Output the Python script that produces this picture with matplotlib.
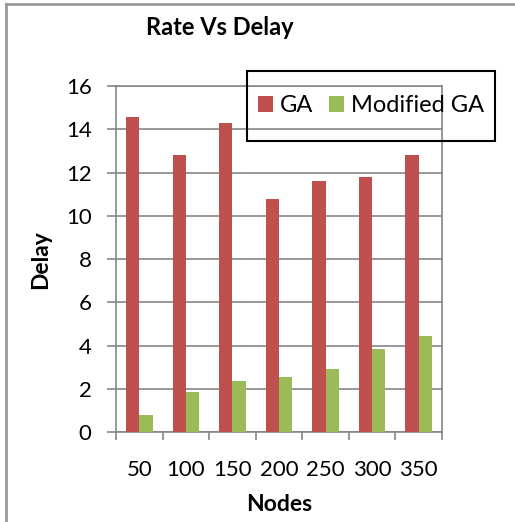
import matplotlib
matplotlib.use("Agg")
import matplotlib.pyplot as plt
from matplotlib.patches import Rectangle
from matplotlib.lines import Line2D
import numpy as np

nodes = ["50", "100", "150", "200", "250", "300", "350"]
ga = [14.55, 12.82, 14.29, 10.79, 11.59, 11.79, 12.82]
modified_ga = [0.78, 1.83, 2.34, 2.55, 2.92, 3.82, 4.43]
yticks = [0, 2, 4, 6, 8, 10, 12, 14, 16]

plt.rcParams["font.family"] = ["Lato", "DejaVu Sans"]

fig = plt.figure(figsize=(5.15, 5.22), dpi=100)
ax = fig.add_axes([0.2252, 0.1724, 0.633, 0.6628])

x = np.arange(len(nodes))
w = 0.285
ax.bar(x - w / 2, ga, w, color="#C0504D", label="GA", zorder=3)
ax.bar(x + w / 2, modified_ga, w, color="#9BBB59", label="Modified GA", zorder=3)

ax.set_xlim(-0.5, len(nodes) - 0.5)
ax.set_ylim(0, 16)
ax.set_yticks(yticks)
ax.yaxis.grid(True, color="#868686", linewidth=1.2, zorder=0)
ax.set_axisbelow(True)
for s in ax.spines.values():
    s.set_color("#868686")
    s.set_linewidth(1.2)

ax.tick_params(axis="y", direction="out", length=6.5, width=1.2, color="#868686",
               pad=11, labelsize=16)
ax.set_xticks(x)
ax.set_xticklabels(nodes)
ax.tick_params(axis="x", length=0, pad=20, labelsize=16)
ax.set_xticks(np.arange(-0.5, len(nodes)), minor=True)
ax.tick_params(axis="x", which="minor", direction="out", length=6, width=1.2,
               color="#868686")

fig.text(0.427, 0.948, "Rate Vs Delay", ha="center", va="center",
         fontsize=17, fontweight="bold")
fig.text(0.5417, 0.033, "Nodes", ha="center", va="center",
         fontsize=16.5, fontweight="bold")
fig.text(0.078, 0.502, "Delay", ha="center", va="center", rotation=90,
         fontsize=16.5, fontweight="bold")

leg = fig.legend(loc="center", bbox_to_anchor=(0.7204, 0.797), ncol=2,
                 frameon=False, fontsize=17, handlelength=0.64,
                 handleheight=0.64, handletextpad=0.3, columnspacing=0.64)
fig.add_artist(Rectangle((0.4796, 0.7299), 0.4816, 0.1341, transform=fig.transFigure,
                         fill=False, edgecolor="black", linewidth=1.5))

# outer chart border (left and top only visible)
fig.add_artist(Line2D([0.011, 0.011], [0, 0.993], transform=fig.transFigure,
                      color="#9A9A9A", linewidth=2))
fig.add_artist(Line2D([0.011, 1.0], [0.993, 0.993], transform=fig.transFigure,
                      color="#9A9A9A", linewidth=2))

fig.savefig("out.png", dpi=100)
